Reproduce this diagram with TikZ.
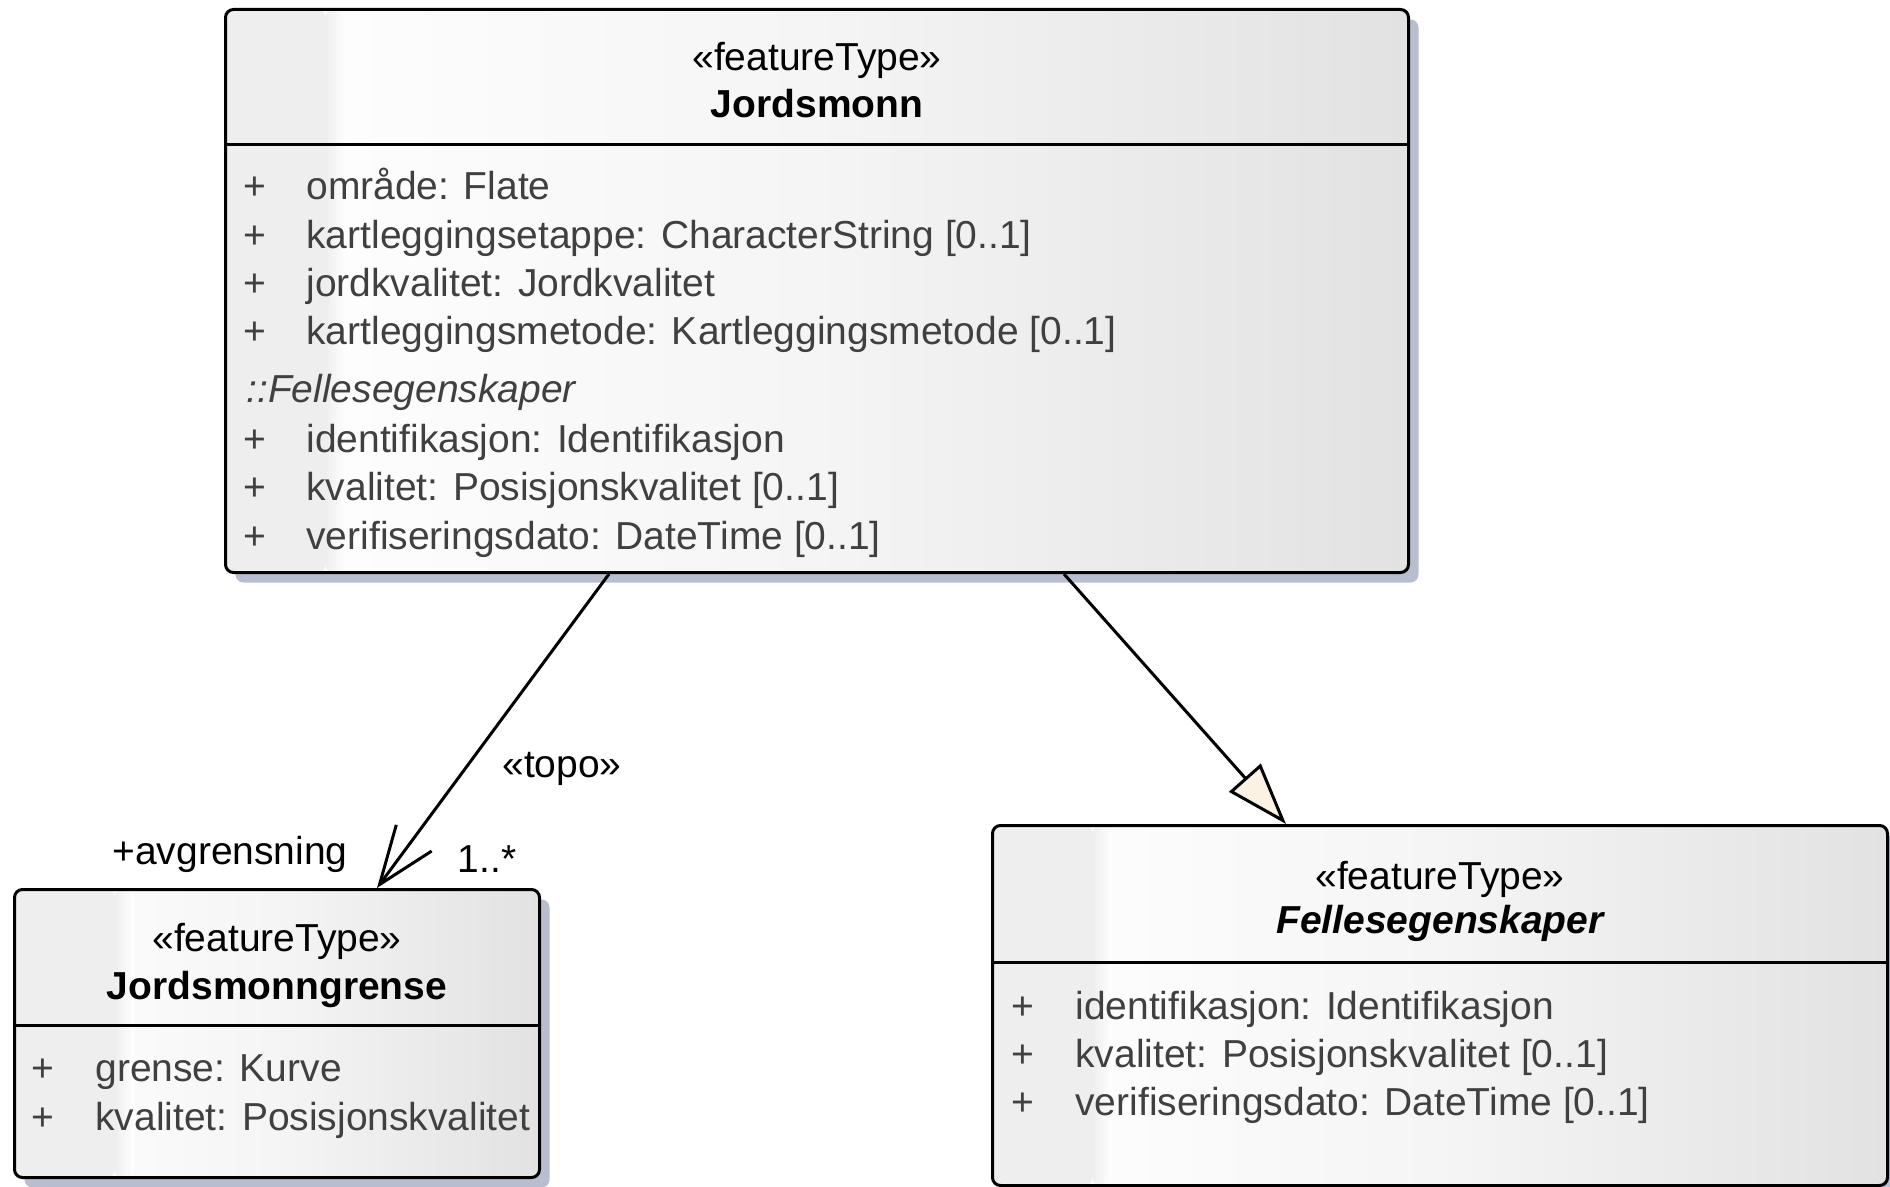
\documentclass[tikz,border=0pt]{standalone}
\usepackage{fontspec}
\setmainfont{Liberation Sans}
\usetikzlibrary{positioning,arrows.meta,shadows,calc}
\definecolor{kantgraa}{RGB}{238,238,238}
\definecolor{hoyregraa}{RGB}{226,226,226}
\definecolor{skygge}{RGB}{184,190,208}
\definecolor{attrtekst}{RGB}{64,64,64}
\definecolor{krem}{RGB}{251,242,228}
\newcommand{\umlfont}{\fontsize{19.5}{23}\selectfont}

\begin{document}
\begin{tikzpicture}[x=0.5pt, y=-0.5pt,
  klasse/.style={draw, line width=1.5pt, rounded corners=4pt, anchor=north west,
                 inner sep=0pt, left color=white, right color=hoyregraa,
                 middle color=hoyregraa!35!white,
                 drop shadow={shadow xshift=5pt, shadow yshift=-5pt,
                              fill=skygge, opacity=1},
                 path picture={
                   \fill[kantgraa] (path picture bounding box.north west)
                     rectangle ([xshift=50pt]path picture bounding box.south west);
                   \shade[left color=kantgraa, right color=white]
                     ([xshift=50pt]path picture bounding box.north west)
                     rectangle ([xshift=60pt]path picture bounding box.south west);}},
  skille/.style={line width=1.5pt},
  stereo/.style={font=\umlfont, anchor=base, inner sep=0pt},
  navn/.style={font=\umlfont\bfseries, anchor=base, inner sep=0pt},
  pluss/.style={font=\umlfont, text=attrtekst, anchor=base west, inner sep=0pt},
  attr/.style={font=\umlfont, text=attrtekst, anchor=base west, inner sep=0pt},
  etikett/.style={font=\umlfont, anchor=base, inner sep=0pt},
  assoc/.style={line width=1.5pt, -{Straight Barb[length=29pt, width=22pt]}},
  arv/.style={line width=1.5pt, -{Triangle[length=31pt, width=21pt, fill=krem]}}]
  \useasboundingbox (0,0) rectangle (1890,1187);

  % Jordsmonn
  \node[klasse, minimum width=591.5pt, minimum height=281.5pt] (jordsmonn) at (224,8) {};
  \draw[skille] ([yshift=-68.5pt]jordsmonn.north west) -- ([yshift=-68.5pt]jordsmonn.north east);
  \node[stereo] (jordsmonn-st) at ($(jordsmonn.north)+(0,63)$) {«featureType»};
  \node[navn] (jordsmonn-nv) at ($(jordsmonn.north)+(0,110)$) {Jordsmonn};
  \foreach \t [count=\i] in {{område: Flate},
      {kartleggingsetappe: CharacterString [0..1]},
      {jordkvalitet: Jordkvalitet},
      {kartleggingsmetode: Kartleggingsmetode [0..1]}} {
    \node[pluss] (jp-\i) at ($(jordsmonn.north west)+(19,{192+48.3*(\i-1)})$) {+};
    \node[attr] (ja-\i) at ($(jordsmonn.north west)+(82,{192+48.3*(\i-1)})$) {\t};
  }
  \node[attr, font=\umlfont\itshape] (jordsmonn-arv) at ($(jordsmonn.north west)+(22,395)$) {::Fellesegenskaper};
  \foreach \t [count=\i] in {{identifikasjon: Identifikasjon},
      {kvalitet: Posisjonskvalitet [0..1]},
      {verifiseringsdato: DateTime [0..1]}} {
    \node[pluss] (jfp-\i) at ($(jordsmonn.north west)+(19,{444+48.5*(\i-1)})$) {+};
    \node[attr] (jfa-\i) at ($(jordsmonn.north west)+(82,{444+48.5*(\i-1)})$) {\t};
  }

  % Jordsmonngrense
  \node[klasse, minimum width=262.5pt, minimum height=144pt] (grense) at (13,888) {};
  \draw[skille] ([yshift=-68.5pt]grense.north west) -- ([yshift=-68.5pt]grense.north east);
  \node[stereo] (grense-st) at ($(grense.north)+(0,63)$) {«featureType»};
  \node[navn] (grense-nv) at ($(grense.north)+(0,111)$) {Jordsmonngrense};
  \foreach \t [count=\i] in {{grense: Kurve}, {kvalitet: Posisjonskvalitet}} {
    \node[pluss] (gp-\i) at ($(grense.north west)+(18,{193+49*(\i-1)})$) {+};
    \node[attr] (ga-\i) at ($(grense.north west)+(82,{193+49*(\i-1)})$) {\t};
  }

  % Fellesegenskaper
  \node[klasse, minimum width=447.5pt, minimum height=180pt] (felles) at (991,824) {};
  \draw[skille] ([yshift=-69pt]felles.north west) -- ([yshift=-69pt]felles.north east);
  \node[stereo] (felles-st) at ($(felles.north)+(0,65)$) {«featureType»};
  \node[navn, font=\umlfont\bfseries\itshape] (felles-nv) at ($(felles.north)+(0,109)$) {Fellesegenskaper};
  \foreach \t [count=\i] in {{identifikasjon: Identifikasjon},
      {kvalitet: Posisjonskvalitet [0..1]},
      {verifiseringsdato: DateTime [0..1]}} {
    \node[pluss] (fp-\i) at ($(felles.north west)+(20,{195+48.3*(\i-1)})$) {+};
    \node[attr] (fa-\i) at ($(felles.north west)+(84,{195+48.3*(\i-1)})$) {\t};
  }

  % forbindelser
  \draw[assoc] ($(jordsmonn.south west)+(385,0)$) -- ($(grense.north west)+(364,0)$);
  \draw[arv] ($(jordsmonn.south west)+(840,0)$) -- ($(felles.north west)+(295,0)$);
  \node[etikett] (topo) at (562,777) {«topo»};
  \node[etikett] (rolle) at (230,864) {+avgrensning};
  \node[etikett] (mult) at (487,872) {1..*};
\end{tikzpicture}
\end{document}
